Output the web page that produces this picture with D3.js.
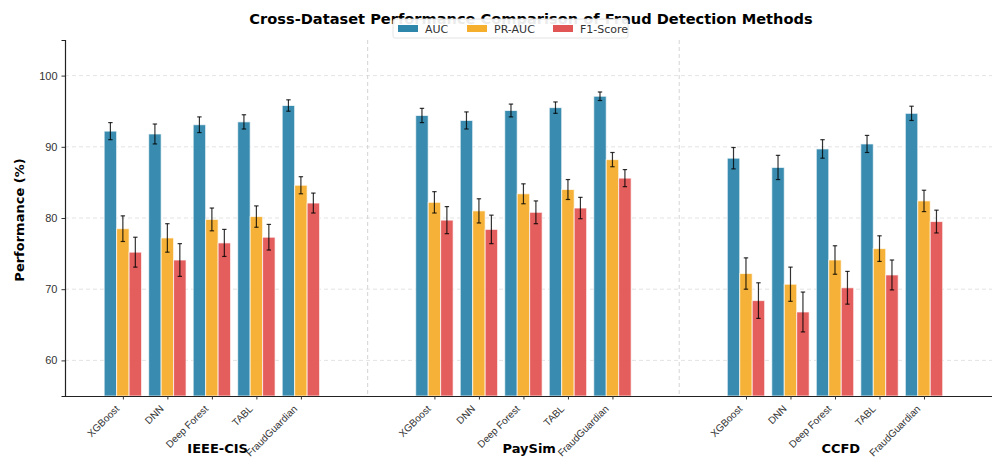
<!DOCTYPE html>
<html>
<head>
<meta charset="utf-8">
<script src="https://cdn.jsdelivr.net/npm/d3@7"></script>
<style>
  body { margin: 0; background: #fff; }
  svg { display: block; font-family: "DejaVu Sans", sans-serif; }
</style>
</head>
<body>
<svg id="chart" width="992" height="464"></svg>
<script>
const datasets = ["IEEE-CIS", "PaySim", "CCFD"];
const methods = ["XGBoost", "DNN", "Deep Forest", "TABL", "FraudGuardian"];
const metrics = ["AUC", "PR-AUC", "F1-Score"];
const colors = ["#2E86AB", "#F6AE2D", "#E15554"];

// values[dataset][method]
const aucValues = [
  [92.2, 91.8, 93.1, 93.5, 95.8],
  [94.4, 93.7, 95.1, 95.5, 97.1],
  [88.4, 87.1, 89.7, 90.4, 94.7]
];
const prValues = [
  [78.5, 77.2, 79.8, 80.2, 84.6],
  [82.2, 81.0, 83.4, 84.0, 88.2],
  [72.2, 70.7, 74.1, 75.7, 82.4]
];
const f1Values = [
  [75.2, 74.1, 76.5, 77.3, 82.1],
  [79.7, 78.4, 80.8, 81.4, 85.6],
  [68.4, 66.8, 70.2, 72.0, 79.5]
];
const aucErr = [
  [1.2, 1.4, 1.1, 1.0, 0.8],
  [1.0, 1.2, 0.9, 0.8, 0.6],
  [1.5, 1.7, 1.3, 1.2, 1.0]
];
const prErr = [
  [1.8, 2.0, 1.6, 1.5, 1.2],
  [1.5, 1.7, 1.4, 1.4, 1.0],
  [2.2, 2.4, 2.0, 1.8, 1.5]
];
const f1Err = [
  [2.1, 2.3, 1.9, 1.8, 1.4],
  [1.9, 2.0, 1.6, 1.5, 1.2],
  [2.5, 2.8, 2.3, 2.1, 1.6]
];
const yTicks = [60, 70, 80, 90, 100];
const groupGap = 7;   // method slots between dataset starts
const barWidth = 0.28;

const valueSets = [aucValues, prValues, f1Values];
const errSets = [aucErr, prErr, f1Err];

const svg = d3.select("#chart");
const plotLeft = 65, plotRight = 997, plotTop = 40, plotBottom = 396;

const x = d3.scaleLinear().domain([-1.3, 19.64]).range([plotLeft, plotRight]);
const y = d3.scaleLinear().domain([55, 105]).range([plotBottom, plotTop]);

// grid
svg.append("g")
  .selectAll("line")
  .data(yTicks)
  .join("line")
  .attr("x1", plotLeft).attr("x2", plotRight)
  .attr("y1", d => y(d)).attr("y2", d => y(d))
  .attr("stroke", "#dcdcdc")
  .attr("stroke-width", 0.8)
  .attr("stroke-dasharray", "4,3");

// dataset separators
svg.append("g")
  .selectAll("line")
  .data([groupGap - 1.5, 2 * groupGap - 1.5])
  .join("line")
  .attr("x1", d => x(d)).attr("x2", d => x(d))
  .attr("y1", plotTop).attr("y2", plotBottom)
  .attr("stroke", "#cfcfcf")
  .attr("stroke-width", 0.9)
  .attr("stroke-dasharray", "4,3");

// flatten bars
const bars = [];
datasets.forEach((ds, di) => {
  methods.forEach((m, mi) => {
    metrics.forEach((met, k) => {
      bars.push({
        pos: di * groupGap + mi + (k - 1) * barWidth,
        value: valueSets[k][di][mi],
        err: errSets[k][di][mi],
        color: colors[k]
      });
    });
  });
});

const bw = x(barWidth) - x(0);

svg.append("g")
  .selectAll("rect")
  .data(bars)
  .join("rect")
  .attr("x", d => x(d.pos) - bw / 2)
  .attr("y", d => y(d.value))
  .attr("width", bw)
  .attr("height", d => plotBottom - y(d.value))
  .attr("fill", d => d.color)
  .attr("fill-opacity", 0.95)
  .attr("stroke", "#fff")
  .attr("stroke-opacity", 0.7)
  .attr("stroke-width", 1);

// error bars
const eb = svg.append("g").attr("stroke", "#000").attr("stroke-opacity", 0.8).attr("stroke-width", 1.2);
eb.selectAll("line.v")
  .data(bars)
  .join("line")
  .attr("class", "v")
  .attr("x1", d => x(d.pos)).attr("x2", d => x(d.pos))
  .attr("y1", d => y(d.value + d.err)).attr("y2", d => y(d.value - d.err));
["hi", "lo"].forEach(side => {
  eb.selectAll("line." + side)
    .data(bars)
    .join("line")
    .attr("class", side)
    .attr("x1", d => x(d.pos) - 2.2).attr("x2", d => x(d.pos) + 2.2)
    .attr("y1", d => y(side === "hi" ? d.value + d.err : d.value - d.err))
    .attr("y2", d => y(side === "hi" ? d.value + d.err : d.value - d.err));
});

// y axis
const yAxis = svg.append("g")
  .attr("transform", `translate(${plotLeft},0)`)
  .call(d3.axisLeft(y).tickValues(yTicks).tickSize(3.5).tickPadding(4));
yAxis.select(".domain").attr("stroke", "#222").attr("stroke-width", 1.2);
yAxis.selectAll(".tick line").attr("stroke", "#333");
yAxis.selectAll(".tick text").attr("fill", "#333").style("font-size", "11px");

// x axis
const tickPos = [];
const tickLabels = [];
datasets.forEach((ds, di) => methods.forEach((m, mi) => {
  tickPos.push(di * groupGap + mi);
  tickLabels.push(m);
}));
const xAxis = svg.append("g")
  .attr("transform", `translate(0,${plotBottom})`)
  .call(d3.axisBottom(x).tickValues(tickPos).tickSize(3.5).tickSizeOuter(0)
    .tickFormat((d, i) => tickLabels[i]));
xAxis.select(".domain").attr("stroke", "#222").attr("stroke-width", 1.2);
xAxis.selectAll(".tick line").attr("stroke", "#333");
xAxis.selectAll(".tick text")
  .attr("fill", "#333")
  .style("font-size", "10px")
  .attr("text-anchor", "end")
  .attr("dy", null)
  .attr("y", 0)
  .attr("transform", "translate(-3.5,13.5) rotate(-45)");

// dataset labels
svg.append("g")
  .selectAll("text")
  .data(datasets)
  .join("text")
  .attr("x", (d, i) => x(i * groupGap + 2.13))
  .attr("y", 453)
  .attr("text-anchor", "middle")
  .style("font-size", "13px")
  .style("font-weight", "bold")
  .text(d => d);

// y label
svg.append("text")
  .attr("transform", `translate(24,${(plotTop + plotBottom) / 2 + 2}) rotate(-90)`)
  .attr("text-anchor", "middle")
  .style("font-size", "13px")
  .style("font-weight", "bold")
  .text("Performance (%)");

// title
svg.append("text")
  .attr("x", (plotLeft + plotRight) / 2)
  .attr("y", 24)
  .attr("text-anchor", "middle")
  .style("font-size", "14.6px")
  .style("font-weight", "bold")
  .text("Cross-Dataset Performance Comparison of Fraud Detection Methods");

// legend
const lg = svg.append("g").attr("transform", "translate(393,19)");
lg.append("rect")
  .attr("width", 235).attr("height", 19).attr("rx", 2)
  .attr("fill", "#fff").attr("fill-opacity", 0.92)
  .attr("stroke", "#ddd").attr("stroke-width", 0.8);
const legendX = [5, 74, 160];
metrics.forEach((m, i) => {
  lg.append("rect")
    .attr("x", legendX[i]).attr("y", 6)
    .attr("width", 20).attr("height", 7)
    .attr("fill", colors[i]);
  lg.append("text")
    .attr("x", legendX[i] + 27).attr("y", 14)
    .style("font-size", "11px")
    .attr("fill", "#333")
    .text(m);
});
</script>
</body>
</html>
